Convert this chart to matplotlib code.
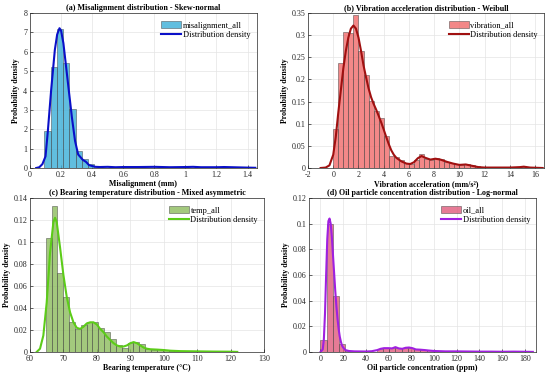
import numpy as np
import matplotlib.pyplot as plt
from matplotlib.ticker import FormatStrFormatter

plt.rcParams['font.family'] = ['Liberation Serif', 'DejaVu Serif']
plt.rcParams['mathtext.fontset'] = 'stix'

# (a) misalignment
mis_start = 0.093
mis_width = 0.04
mis_hist = [1.9, 5.2, 7.2, 5.4, 3.05, 0.87, 0.45, 0.2]
mis_kx = [0.04, 0.06, 0.08, 0.10, 0.115, 0.136, 0.16, 0.175, 0.19, 0.2, 0.215, 0.24, 0.27, 0.29, 0.31,
          0.34, 0.36, 0.38, 0.42, 0.45, 0.5, 0.55, 0.6, 0.7, 0.8, 0.9, 1.0, 1.05, 1.1, 1.2, 1.25, 1.3, 1.4, 1.45]
mis_ky = [0.0, 0.04, 0.2, 0.6, 1.9, 4.0, 6.1, 6.9, 7.22, 7.1, 6.45, 4.7, 2.6, 1.4, 0.7,
          0.42, 0.32, 0.15, 0.06, 0.05, 0.06, 0.04, 0.05, 0.05, 0.06, 0.04, 0.05, 0.06, 0.04, 0.04, 0.05, 0.04, 0.02, 0.01]

# (b) vibration
vib_start = 0.0
vib_width = 0.4
vib_hist = [0.088, 0.237, 0.308, 0.304, 0.345, 0.264, 0.211, 0.152, 0.128, 0.113, 0.072,
            0.026, 0.024, 0.019, 0.012, 0.008, 0.018, 0.031, 0.02, 0.017, 0.022, 0.02, 0.014,
            0.012, 0.009, 0.006, 0.01, 0.006, 0.004, 0.003, 0.002, 0.002, 0.002, 0.002, 0.002,
            0.002, 0.002, 0.003, 0.002, 0.002, 0.001]
vib_kx = [-1.0, -0.6, -0.3, 0.0, 0.2, 0.4, 0.6, 0.8, 1.0, 1.2, 1.4, 1.6, 1.8, 2.0, 2.2, 2.4, 2.6,
          2.8, 3.0, 3.2, 3.4, 3.6, 3.8, 4.0, 4.2, 4.4, 4.6, 4.8, 5.0, 5.4, 5.8, 6.1, 6.4, 6.7, 7.0,
          7.3, 7.7, 8.1, 8.5, 9.0, 9.5, 10.0, 10.5, 11.0, 11.5, 12.0, 13.0, 14.0, 14.8, 15.1, 15.6, 16.6]
vib_ky = [0.0, 0.001, 0.006, 0.03, 0.07, 0.125, 0.175, 0.225, 0.265, 0.295, 0.315, 0.322, 0.315,
          0.295, 0.265, 0.232, 0.205, 0.18, 0.16, 0.145, 0.132, 0.118, 0.103, 0.087, 0.07, 0.054,
          0.04, 0.03, 0.023, 0.015, 0.01, 0.009, 0.013, 0.022, 0.027, 0.023, 0.019, 0.021, 0.019,
          0.014, 0.01, 0.007, 0.008, 0.005, 0.002, 0.001, 0.001, 0.001, 0.002, 0.003, 0.001, 0.0]

# (c) bearing temperature
temp_start = 64.7
temp_width = 1.75
temp_hist = [0.104, 0.133, 0.072, 0.05, 0.027, 0.021, 0.025, 0.0275, 0.0275, 0.022, 0.018,
             0.012, 0.006, 0.004, 0.0085, 0.009, 0.007, 0.0025, 0.002, 0.0025, 0.0018, 0.0012,
             0.001, 0.0008, 0.0007, 0.0006, 0.0005, 0.0005, 0.0004, 0.0004, 0.0003, 0.0003, 0.0003]
temp_kx = [62, 63, 64, 65, 66, 67, 67.5, 68, 69, 70, 71, 72, 73, 74, 75, 76, 77, 78, 79, 80, 81,
           82, 83, 84, 85, 86, 87, 88, 89, 90, 91, 92, 93, 94, 95, 96, 98, 100, 102, 105, 110,
           115, 120, 122]
temp_ky = [0.0, 0.003, 0.015, 0.045, 0.09, 0.118, 0.122, 0.118, 0.095, 0.07, 0.05, 0.036, 0.027,
           0.022, 0.021, 0.023, 0.026, 0.027, 0.027, 0.025, 0.021, 0.018, 0.014, 0.011, 0.008,
           0.006, 0.005, 0.005, 0.006, 0.008, 0.009, 0.008, 0.006, 0.004, 0.003, 0.0025, 0.0022,
           0.0018, 0.0012, 0.0008, 0.0006, 0.0004, 0.0003, 0.0001]

# (d) oil particle concentration
oil_start = 0.0
oil_width = 5.5
oil_hist = [0.0092, 0.1, 0.044, 0.0066, 0.0006, 0.0003, 0.0003, 0.0003, 0.0003, 0.002, 0.003,
            0.003, 0.0032, 0.0028, 0.0032, 0.0026, 0.0016, 0.0012, 0.001, 0.0008, 0.0006, 0.0005,
            0.0005, 0.0004, 0.0004, 0.0003, 0.0003, 0.0003, 0.0002, 0.0003, 0.0002, 0.0002, 0.0002, 0.0001]
oil_kx = [0, 2, 3, 4, 5, 6, 7, 8, 9, 10, 11, 12, 13, 14, 15, 16, 17, 18, 19, 20, 22, 25, 30, 40, 45,
          50, 53, 56, 60, 63, 66, 69, 72, 75, 78, 81, 84, 88, 92, 95, 100, 110, 120, 130, 140,
          150, 160, 170, 180, 187]
oil_ky = [0.0, 0.002, 0.01, 0.03, 0.06, 0.088, 0.102, 0.104, 0.1, 0.09, 0.076, 0.062, 0.048, 0.036,
          0.026, 0.018, 0.012, 0.008, 0.005, 0.0035, 0.0015, 0.0008, 0.0005, 0.0004, 0.0006, 0.0015,
          0.0025, 0.003, 0.003, 0.0028, 0.0038, 0.0028, 0.0025, 0.0033, 0.0035, 0.003, 0.002,
          0.0018, 0.0015, 0.0012, 0.0008, 0.0005, 0.0005, 0.0004, 0.0003, 0.0003, 0.0002, 0.0003,
          0.0002, 0.0001]

panels = [
    dict(pos=[0.0545, 0.552, 0.4125, 0.413], start=mis_start, width=mis_width, hist=mis_hist,
         kx=mis_kx, ky=mis_ky, bar='#3aaed8', line='#0a10c8', hname='misalignment_all',
         title='(a) Misalignment distribution - Skew-normal', xlabel='Misalignment (mm)',
         xlim=(0, 1.46), xticks=np.arange(0, 1.41, 0.2), ylim=(0, 8), yticks=np.arange(0, 8.1, 1)),
    dict(pos=[0.56, 0.552, 0.429, 0.413], start=vib_start, width=vib_width, hist=vib_hist,
         kx=vib_kx, ky=vib_ky, bar='#f06a6a', line='#a01010', hname='vibration_all',
         title='(b) Vibration acceleration distribution - Weibull',
         xlabel='Vibration acceleration (mm/s²)',
         xlim=(-2, 16.7), xticks=np.arange(-2, 16.1, 2), ylim=(0, 0.35), yticks=np.arange(0, 0.351, 0.05)),
    dict(pos=[0.0545, 0.0613, 0.4255, 0.4107], start=temp_start, width=temp_width, hist=temp_hist,
         kx=temp_kx, ky=temp_ky, bar='#8cbc5c', line='#5ccc18', hname='temp_all',
         title='(c) Bearing temperature distribution - Mixed asymmetric',
         xlabel='Bearing temperature (°C)',
         xlim=(60, 130), xticks=np.arange(60, 131, 10), ylim=(0, 0.14), yticks=np.arange(0, 0.141, 0.02)),
    dict(pos=[0.562, 0.0613, 0.413, 0.4107], start=oil_start, width=oil_width, hist=oil_hist,
         kx=oil_kx, ky=oil_ky, bar='#e05a7c', line='#a020e0', hname='oil_all',
         title='(d) Oil particle concentration distribution - Log-normal',
         xlabel='Oil particle concentration (ppm)',
         xlim=(-10, 190), xticks=np.arange(0, 181, 20), ylim=(0, 0.12), yticks=np.arange(0, 0.121, 0.02)),
]

fig = plt.figure(figsize=(5.5, 3.75), dpi=100)
for p in panels:
    ax = fig.add_axes(p['pos'])
    lefts = p['start'] + p['width'] * np.arange(len(p['hist']))
    bars = ax.bar(lefts, p['hist'], width=p['width'], align='edge', color=p['bar'], alpha=0.8,
                  edgecolor='#3a3a3a', linewidth=0.4, label=p['hname'])
    line, = ax.plot(p['kx'], p['ky'], color=p['line'], linewidth=1.5, label='Distribution density')
    ax.set_xlim(p['xlim'])
    ax.set_ylim(p['ylim'])
    ax.set_xticks(p['xticks'])
    ax.set_yticks(p['yticks'])
    ax.xaxis.set_major_formatter(FormatStrFormatter('%g'))
    ax.yaxis.set_major_formatter(FormatStrFormatter('%g'))
    ax.grid(True, color='#e4e4e4', linewidth=0.5)
    ax.set_axisbelow(True)
    ax.tick_params(direction='in', labelsize=5.8, length=2.5, width=0.5, pad=2, colors='#262626')
    for s in ax.spines.values():
        s.set_linewidth(0.5)
        s.set_color('#262626')
    ax.set_title(p['title'], fontsize=5.8, fontweight='bold', pad=2)
    ax.set_xlabel(p['xlabel'], fontsize=5.7, fontweight='bold', labelpad=1)
    ax.set_ylabel('Probability density', fontsize=5.7, fontweight='bold', labelpad=2)
    ax.legend(handles=[bars, line], loc='upper right', fontsize=6, frameon=False,
              handlelength=2.4, handleheight=0.9, handletextpad=0.2, labelspacing=0.15,
              borderaxespad=0.6, bbox_to_anchor=(1.01, 1.0))

fig.savefig('out.png', dpi=100)
